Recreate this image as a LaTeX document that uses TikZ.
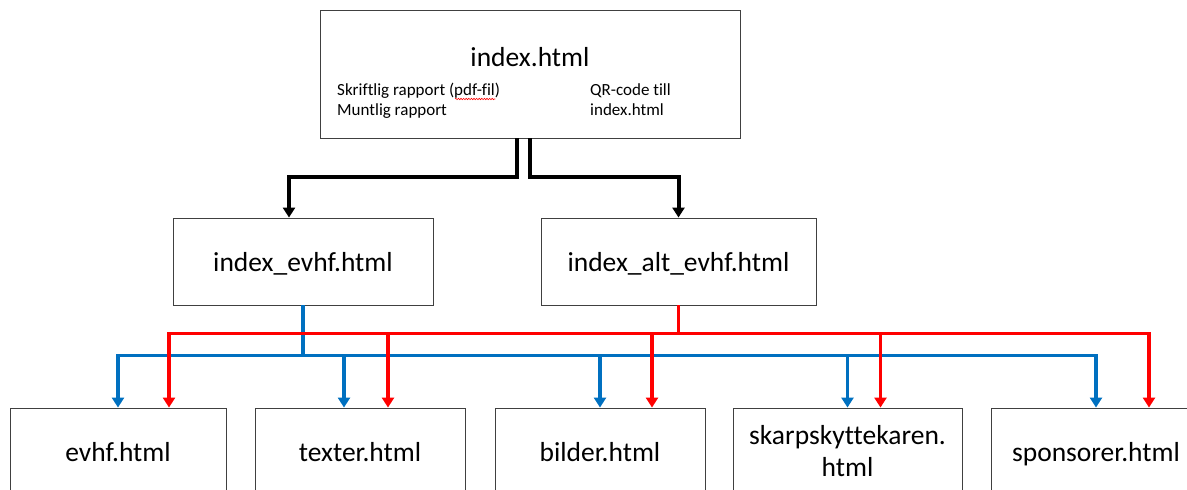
\documentclass[tikz,border=0pt]{standalone}
\usepackage{fontspec}
\setmainfont[Ligatures=NoCommon]{Carlito}
\usetikzlibrary{arrows.meta,calc,decorations.pathmorphing}
\definecolor{olblue}{RGB}{0,112,192}
\definecolor{olred}{RGB}{255,0,0}
\definecolor{boxgray}{RGB}{64,64,64}
\begin{document}
\begin{tikzpicture}[x=1pt,y=-1pt,line join=miter,
  filebox/.style={draw=boxgray,line width=0.9pt,inner sep=0pt,
    font=\fontsize{27.5}{32}\selectfont,text height=19pt,text depth=0pt,align=center},
  bigtxt/.style={inner sep=0pt,font=\fontsize{27.5}{32}\selectfont},
  subtxt/.style={inner sep=0pt,font=\fontsize{17}{20}\selectfont},
  tip/.style={-{Triangle[width=12pt,length=10pt]}},
  blk/.style={tip,line width=4pt,black},
  bluel/.style={tip,line width=3.5pt,olblue},
  redl/.style={tip,line width=3.5pt,olred}]
\useasboundingbox (0,0) rectangle (1187,490);
\clip (0,0) rectangle (1187,490);
% boxes
\node[filebox,minimum width=420pt,minimum height=128pt] (idx) at (530,74) {};
\node[bigtxt,anchor=base] (idxt) at (530,66) {index.html};
\node[subtxt,anchor=base west] (s1) at (337,95) {Skriftlig rapport (pdf-fil)};
\node[subtxt,anchor=base west] (s2) at (337,115) {Muntlig rapport};
\node[subtxt,anchor=base west] (s3) at (590,95) {QR-code till};
\node[subtxt,anchor=base west] (s4) at (590,115) {index.html};
\draw[olred,line width=0.6pt,decorate,decoration={snake,amplitude=0.7pt,segment length=2.6pt}]
  ([xshift=118pt,yshift=-4pt]s1.base west) -- ([xshift=-5pt,yshift=-4pt]s1.base east);
\node[filebox,minimum width=260pt,minimum height=87pt] (ie) at (303,261.5) {index\_evhf.html};
\node[filebox,minimum width=275pt,minimum height=87pt] (ia) at (678.5,261.5) {index\_alt\_evhf.html};
\node[filebox,minimum width=216pt,minimum height=87pt] (b1) at (118,451.5) {evhf.html};
\node[filebox,minimum width=210pt,minimum height=87pt] (b2) at (360,451.5) {texter.html};
\node[filebox,minimum width=210pt,minimum height=87pt] (b3) at (600,451.5) {bilder.html};
\node[filebox,minimum width=229pt,minimum height=87pt,text height=49pt,text depth=0pt] (b4) at (847.5,451.5) {skarpskyttekaren.\\html};
\node[filebox,minimum width=210pt,minimum height=87pt] (b5) at (1096,451.5) {sponsorer.html};
% black connectors
\draw[blk] ([xshift=-13pt]idx.south) -- ++(0,39) -| ([xshift=-14pt]ie.north);
\draw[blk] (idx.south) -- ++(0,39) -| (ia.north);
% blue connectors
\draw[bluel] (ie.south) -- ++(0,50) -| (b1.north);
\draw[bluel] (ie.south) -- ++(0,50) -| ([xshift=-16pt]b2.north);
\draw[bluel] (ie.south) -- ++(0,50) -| (b3.north);
\draw[bluel] (ie.south) -- ++(0,50) -| (b4.north);
\draw[bluel] (ie.south) -- ++(0,50) -| (b5.north);
% red connectors
\draw[redl] (ia.south) -- ++(0,28) -| ([xshift=51pt]b1.north);
\draw[redl] (ia.south) -- ++(0,28) -| ([xshift=28pt]b2.north);
\draw[redl] (ia.south) -- ++(0,28) -| ([xshift=52pt]b3.north);
\draw[redl] (ia.south) -- ++(0,28) -| ([xshift=33pt]b4.north);
\draw[redl] (ia.south) -- ++(0,28) -| ([xshift=53pt]b5.north);
\end{tikzpicture}
\end{document}
